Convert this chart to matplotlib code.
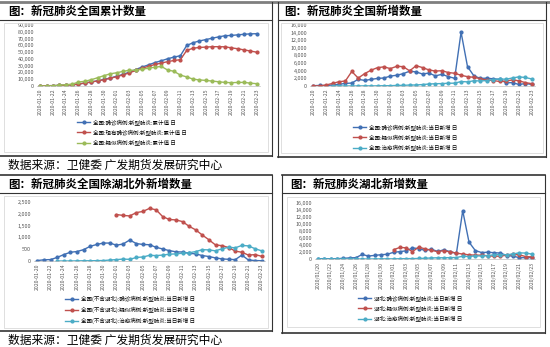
import numpy as np
import matplotlib
matplotlib.use("Agg")
import matplotlib.pyplot as plt
from matplotlib.lines import Line2D
from matplotlib.patches import Rectangle

plt.rcParams['font.family'] = ['Noto Sans CJK SC', 'DejaVu Sans']

W, H = 550, 347

# dates 2020-01-20 .. 2020-02-23
days = [("01", d) for d in range(20, 32)] + [("02", d) for d in range(1, 24)]
dash_labels = ["2020-%s-%02d" % (m, d) for m, d in days]
slash_labels = ["2020/%s/%02d" % (m, d) for m, d in days]

# chart 1: cumulative (nationwide)
cum_confirmed = [291, 440, 571, 830, 1287, 1975, 2744, 4515, 5974, 7711, 9692, 11791,
                 14380, 17205, 20438, 24324, 28018, 31161, 34546, 37198, 40171, 42638,
                 44653, 59804, 63851, 66492, 68500, 70548, 72436, 74185, 74576, 75465,
                 76288, 76936, 77150]
cur_confirmed = [260, 403, 526, 771, 1208, 1870, 2684, 4409, 5806, 7469, 9401, 11399,
                 13748, 16369, 19381, 22942, 26302, 28985, 31774, 33738, 35982, 37626,
                 38800, 52526, 55748, 56873, 57416, 57934, 58016, 57805, 56303, 54965,
                 53284, 51606, 49824]
cum_suspected = [54, 37, 393, 1072, 1965, 2684, 5794, 6973, 9239, 12167, 15238, 17988,
                 19544, 21558, 23214, 23260, 24702, 26359, 27657, 28942, 23589, 21675,
                 16067, 13435, 10109, 8969, 8228, 7264, 6242, 5248, 4922, 5206, 5365,
                 4148, 3434]

# chart 2: daily new (nationwide)
new_confirmed = [77, 149, 131, 259, 444, 688, 769, 1771, 1459, 1737, 1982, 2102, 2590,
                 2829, 3235, 3887, 3694, 3143, 3399, 2656, 3062, 2478, 2015, 14108, 5090,
                 2641, 2009, 2048, 1886, 1749, 820, 889, 397, 648, 409]
new_suspected = [27, 26, 257, 680, 1118, 1309, 3806, 2077, 3248, 4148, 4812, 5019, 4562,
                 5173, 5072, 3971, 5328, 4833, 4214, 3916, 4008, 3536, 3342, 2807, 2450,
                 2277, 1918, 1563, 1432, 1185, 1277, 1614, 1361, 882, 620]
new_cured = [None, None, None, 6, 4, 11, 2, 9, 43, 21, 47, 72, 85, 147, 157, 262, 261,
             387, 510, 600, 632, 716, 744, 1171, 1081, 1373, 1323, 1425, 1701, 1824,
             1779, 2109, 2393, 2230, 1846]

# chart 3: daily new outside Hubei
nh_confirmed = [20, 50, 60, 150, 270, 370, 400, 480, 620, 700, 760, 760, 670, 720, 890,
                740, 700, 690, 580, 510, 440, 390, 380, 330, 300, 230, 190, 130, 90, 70,
                60, 250, 40, 20, 10]
nh_suspected = [None] * 12 + [1970, 1930, 1910, 2050, 2100, 2230, 2170, 1880, 1760, 1740,
                              1670, 1470, 1320, 1100, 900, 680, 650, 570, 420, 370, 250,
                              270, 200]
nh_cured = [None, None, None, 0, 0, 0, 5, 10, 10, 15, 20, 40, 60, 80, 70, 150, 170, 240,
            230, 250, 290, 300, 330, 350, 400, 480, 470, 430, 520, 580, 560, 660, 640,
            520, 430]

# chart 4: daily new Hubei
hb_confirmed = [72, 105, 69, 105, 180, 323, 371, 1291, 840, 1032, 1220, 1347, 1921, 2103,
                2345, 3156, 2987, 2447, 2841, 2147, 2618, 2097, 1638, 13800, 4823, 2420,
                1843, 1933, 1807, 1693, 1000, 800, 400, 366, 400]
hb_suspected = [None] * 12 + [2670, 3300, 3200, 2100, 3400, 2900, 2500, 2100, 2400, 2000,
                              1700, 1400, 1200, 1100, 1100, 900, 800, 800, 1100, 1300,
                              1200, 700, 600]
hb_cured = [0, 3, 0, 3, 0, 10, 0, 2, 0, 11, 30, 50, 35, 80, 100, 120, 150, 200, 300, 350,
            350, 400, 420, 800, 700, 900, 850, 1000, 1200, 1250, 1200, 1450, 1750, 1700,
            1400]

BLUE, RED, GREEN, TEAL = "#4170B4", "#C0504D", "#9BBB59", "#4BACC6"

fig = plt.figure(figsize=(W / 100, H / 100), dpi=100)


def rect(x0, y0, x1, y1):
    return [x0 / W, 1 - y1 / H, (x1 - x0) / W, (y1 - y0) / H]


def hline(y, x0, x1, lw=1.0, color="#333333"):
    fig.add_artist(Line2D([x0 / W, x1 / W], [1 - y / H, 1 - y / H], lw=lw, color=color,
                          transform=fig.transFigure))


def vline(x, y0, y1, lw=1.0, color="#333333"):
    fig.add_artist(Line2D([x / W, x / W], [1 - y0 / H, 1 - y1 / H], lw=lw, color=color,
                          transform=fig.transFigure))


def box(x0, y0, x1, y1):
    fig.add_artist(Rectangle((x0 / W, 1 - y1 / H), (x1 - x0) / W, (y1 - y0) / H,
                             fill=False, ec="#d9d9d9", lw=0.6, transform=fig.transFigure))


def panel(pos, series, names, ymax, ystep, xlabels, leg_xy):
    ax = fig.add_axes(rect(*pos))
    x = np.arange(len(xlabels))
    colors = [BLUE, RED, TEAL if "治愈" in names[2] else GREEN]
    for vals, name, c in zip(series, names, colors):
        v = np.array([np.nan if a is None else a for a in vals], dtype=float)
        ax.plot(x, v, color=c, lw=1.0, marker="o", ms=2.0, label=name)
    ax.set_xlim(-0.5, len(x) - 0.5)
    ax.set_ylim(0, ymax)
    yt = np.arange(0, ymax + 1, ystep)
    ax.set_yticks(yt)
    ax.set_yticklabels(["0" if t == 0 else "{:,}".format(int(t)) for t in yt],
                       fontsize=3.9, color="#555555")
    ax.set_xticks(x[::2])
    ax.set_xticklabels(xlabels[::2], rotation=90, fontsize=3.7, color="#555555")
    ax.tick_params(length=0, pad=2)
    for s in ["top", "right", "left"]:
        ax.spines[s].set_visible(False)
    ax.spines["bottom"].set_color("#bfbfbf")
    ax.spines["bottom"].set_linewidth(0.5)
    ax.legend(loc="upper left", bbox_to_anchor=(leg_xy[0] / W, 1 - leg_xy[1] / H),
              bbox_transform=fig.transFigure, frameon=False, fontsize=4.0,
              borderpad=0, borderaxespad=0, handlelength=2.4, handletextpad=0.5,
              labelspacing=0.8)
    return ax


# frame lines
hline(2, 0, 550, lw=2.0, color="#7f7f7f")
hline(20, 0, 272, lw=0.8)
hline(20, 278, 546, lw=0.8)
vline(272, 2, 156, lw=0.8)
vline(278, 2, 157, lw=0.8)
vline(546, 2, 157, lw=0.8)
hline(156, 0, 272, lw=1.2)
hline(157, 278, 546, lw=1.2)
hline(175, 0, 272, lw=1.2)
hline(175, 282, 545, lw=1.2)
hline(193, 0, 272, lw=0.8)
hline(193, 282, 545, lw=0.8)
vline(272, 175, 331, lw=0.8)
vline(282, 175, 333, lw=0.8)
vline(545, 175, 333, lw=0.8)
hline(331, 0, 272, lw=1.2)
hline(333, 282, 545, lw=1.2)

box(4, 23, 268, 152)
box(281, 23, 543, 153)
box(4, 196, 268, 328)
box(287, 197, 540, 327)

fig.text(8 / W, 1 - 11 / H, "图：新冠肺炎全国累计数量", fontsize=8.3, weight="bold", va="center")
fig.text(284 / W, 1 - 11 / H, "图：新冠肺炎全国新增数量", fontsize=8.3, weight="bold", va="center")
fig.text(8 / W, 1 - 184 / H, "图：新冠肺炎全国除湖北外新增数量", fontsize=8.3, weight="bold", va="center")
fig.text(290 / W, 1 - 184 / H, "图：新冠肺炎湖北新增数量", fontsize=8.3, weight="bold", va="center")
fig.text(8 / W, 1 - 165 / H, "数据来源：卫健委 广发期货发展研究中心", fontsize=8.5, va="center")
fig.text(8 / W, 1 - 340 / H, "数据来源：卫健委 广发期货发展研究中心", fontsize=8.5, va="center")

panel((37, 25, 260, 86), [cum_confirmed, cur_confirmed, cum_suspected],
      ["全国:确诊病例:新型肺炎:累计值 日", "全国:现有确诊病例:新型肺炎:累计值 日",
       "全国:疑似病例:新型肺炎:累计值 日"], 90000, 10000, dash_labels, (77, 119))

panel((310, 25, 535, 86), [new_confirmed, new_suspected, new_cured],
      ["全国:确诊病例:新型肺炎:当日新增 日", "全国:疑似病例:新型肺炎:当日新增 日",
       "全国:治愈病例:新型肺炎:当日新增 日"], 16000, 2000, dash_labels, (353, 124))

panel((34, 202, 265, 261), [nh_confirmed, nh_suspected, nh_cured],
      ["全国(不含湖北):确诊病例:新型肺炎:当日新增 日", "全国(不含湖北):疑似病例:新型肺炎:当日新增 日",
       "全国(不含湖北):治愈病例:新型肺炎:当日新增 日"], 2500, 500, dash_labels, (65, 296))

panel((315, 203, 535, 259), [hb_confirmed, hb_suspected, hb_cured],
      ["湖北:确诊病例:新型肺炎:当日新增 日", "湖北:疑似病例:新型肺炎:当日新增 日",
       "湖北:治愈病例:新型肺炎:当日新增 日"], 16000, 2000, slash_labels, (358, 295))

fig.savefig("out.png", dpi=100)
